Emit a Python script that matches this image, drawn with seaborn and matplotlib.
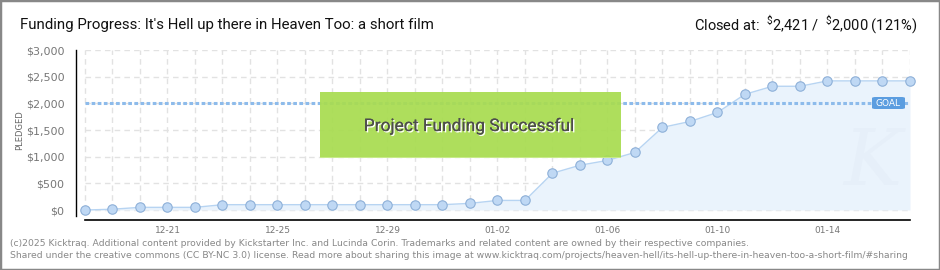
import matplotlib
matplotlib.use("Agg")
import matplotlib.pyplot as plt
import matplotlib.patheffects as pe
from matplotlib.patches import Rectangle, FancyBboxPatch
from matplotlib.ticker import FixedLocator
import numpy as np
import pandas as pd
import seaborn as sns

# ---- data -------------------------------------------------------------
days = ["12-18", "12-19", "12-20", "12-21", "12-22", "12-23", "12-24", "12-25",
        "12-26", "12-27", "12-28", "12-29", "12-30", "12-31", "01-01", "01-02",
        "01-03", "01-04", "01-05", "01-06", "01-07", "01-08", "01-09", "01-10",
        "01-11", "01-12", "01-13", "01-14", "01-15", "01-16", "01-17"]
pledged = [0, 15, 50, 50, 50, 100, 100, 100, 100, 100, 100, 100, 100, 100,
           125, 180, 180, 690, 840, 930, 1080, 1550, 1660, 1830, 2170, 2320,
           2320, 2421, 2421, 2421, 2421]
goal = 2000
labelled_days = ["12-21", "12-25", "12-29", "01-02", "01-06", "01-10", "01-14"]
y_ticks = [0, 500, 1000, 1500, 2000, 2500, 3000]
y_minor = [250, 750, 1250, 1750, 2250, 2750]

title = "Funding Progress: It's Hell up there in Heaven Too: a short film"
status = r"Closed at:  $^{\$}$2,421 /  $^{\$}$2,000 (121%)"
footer = ["(c)2025 Kicktraq. Additional content provided by Kickstarter Inc. and Lucinda Corin. "
          "Trademarks and related content are owned by their respective companies.",
          "Shared under the creative commons (CC BY-NC 3.0) license. Read more about sharing this "
          "image at www.kicktraq.com/projects/heaven-hell/its-hell-up-there-in-heaven-too-a-short-film/#sharing"]

df = pd.DataFrame({"day": np.arange(len(days)), "pledged": pledged})

# ---- style ------------------------------------------------------------
sns.set_style("white")
plt.rcParams["font.family"] = ["Roboto", "DejaVu Sans"]
plt.rcParams["mathtext.fontset"] = "custom"
plt.rcParams["mathtext.rm"] = "Roboto"

W, H = 940, 270
fig = plt.figure(figsize=(W / 100, H / 100), dpi=100)
fig.patch.set_facecolor("white")


def fx(x):
    return x / W


def fy(y):
    return 1 - y / H


ax = fig.add_axes([fx(75.5), fy(220), fx(910) - fx(75.5), fy(50) - fy(220)])
ax.set_xlim(-0.345, len(days) - 1)
ax.set_ylim(-187, 3000)
ax.set_facecolor("none")

# dashed grid
grid_kw = dict(color="#e2e2e2", lw=1, ls=(0, (4, 3)), zorder=0)
ax.hlines(y_ticks, 0, len(days) - 1, **grid_kw)
ax.vlines(df["day"], 0, 3000, **grid_kw)

# faint watermark
fig.text(fx(872), fy(163), "K", ha="center", va="center", fontsize=56,
         style="italic", family="DejaVu Serif", color="#e6eff9", zorder=1)

# area, line and markers
ax.fill_between(df["day"], df["pledged"], 0, color="#eaf3fc", zorder=1, lw=0)
sns.lineplot(data=df, x="day", y="pledged", ax=ax, color="#b7d4f2", lw=1, zorder=2)
sns.scatterplot(data=df, x="day", y="pledged", ax=ax, s=46, color="#bfd8f4",
                edgecolor="#8eb0d8", linewidth=0.8, zorder=5, clip_on=False)

# goal line
ax.hlines(goal, 0, len(days) - 1, color="#8dbbeb", lw=2.2, ls=(0, (1.2, 0.8)), zorder=3)

# success banner
fig.add_artist(Rectangle((fx(320), fy(158)), fx(621) - fx(320), fy(92) - fy(158),
                         transform=fig.transFigure, facecolor="#a8dc50", alpha=0.93,
                         edgecolor="none", zorder=6))
fig.add_artist(Rectangle((fx(320), fy(158)), fx(621) - fx(320), 1.5 / H,
                         transform=fig.transFigure, facecolor="#c7ea8a",
                         edgecolor="none", zorder=6))
fig.text(fx(469), fy(126), "Project Funding Successful", ha="center", va="center",
         fontsize=12.5, color="#4d4d4d", zorder=7,
         path_effects=[pe.withSimplePatchShadow(offset=(1, -1), shadow_rgbFace="white", alpha=1),
                       pe.Normal()])

# goal tag
fig.add_artist(FancyBboxPatch((fx(872), fy(109)), fx(905) - fx(872), fy(97) - fy(109),
                              boxstyle="round,pad=0,rounding_size=0.004",
                              transform=fig.transFigure, facecolor="#5b9de0",
                              edgecolor="none", zorder=6))
fig.text(fx(888.5), fy(103), "GOAL", ha="center", va="center", fontsize=6.5,
         color="white", family="DejaVu Sans", zorder=7)

# axes
for s in ["top", "right"]:
    ax.spines[s].set_visible(False)
ax.spines["left"].set_color("black")
ax.spines["left"].set_linewidth(1)
ax.spines["left"].set_bounds(-120, 3000)
ax.spines["bottom"].set_color("black")
ax.spines["bottom"].set_linewidth(1.2)
ax.spines["bottom"].set_bounds(0, len(days) - 1)

ax.yaxis.set_major_locator(FixedLocator(y_ticks))
ax.set_yticklabels([f"${v:,}" for v in y_ticks])
ax.yaxis.set_minor_locator(FixedLocator(y_minor))
ax.tick_params(axis="y", which="major", length=5, width=1, color="black",
               labelsize=8, labelcolor="#777777", pad=3)
ax.tick_params(axis="y", which="minor", length=3, width=1, color="#e00000")
for t in ax.get_yticklabels():
    t.set_family("DejaVu Sans")

ax.set_xticks(df["day"])
ax.set_xticklabels([d if d in labelled_days else "" for d in days])
ax.tick_params(axis="x", length=4, width=1, color="black", labelsize=6.5,
               labelcolor="#777777", pad=0.5)
for t in ax.get_xticklabels():
    t.set_family("DejaVu Sans")
ax.set_xlabel("")
ax.set_ylabel("")

fig.text(fx(20), fy(130), "PLEDGED", rotation=90, ha="center", va="center",
         fontsize=6, color="#666666", family="DejaVu Sans")

# header
fig.text(fx(20), fy(25), title, ha="left", va="center", fontsize=10.8, color="#111111")
fig.text(fx(917), fy(25), status, ha="right", va="center", fontsize=10.5, color="#111111")

# footer
fig.text(fx(10), fy(243.5), footer[0], ha="left", va="center", fontsize=6.7,
         color="#888888", family="DejaVu Sans")
fig.text(fx(10), fy(256), footer[1], ha="left", va="center", fontsize=6.7,
         color="#888888", family="DejaVu Sans")

# frame
fig.add_artist(Rectangle((0, 0), 1, 1, transform=fig.transFigure, fill=False,
                         edgecolor="#888888", lw=2.5, zorder=10))

fig.savefig("out.png", dpi=100)
